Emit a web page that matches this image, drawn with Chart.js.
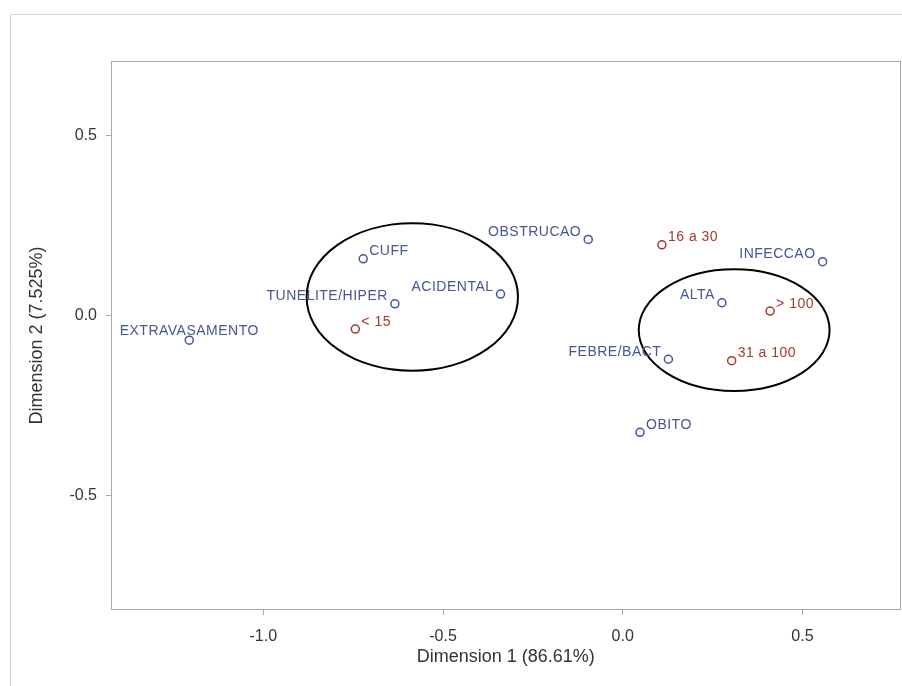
<!DOCTYPE html>
<html>
<head>
<meta charset="utf-8">
<script src="https://cdn.jsdelivr.net/npm/chart.js@4.4.1/dist/chart.umd.min.js"></script>
<style>
  html, body { margin: 0; padding: 0; background: #fff; overflow: hidden; }
</style>
</head>
<body>
<canvas id="caPlot" width="902" height="686"></canvas>
<script>
// row profile points (motivo de retirada)
const rowLabels = ['EXTRAVASAMENTO', 'CUFF', 'TUNELITE/HIPER', 'ACIDENTAL', 'OBSTRUCAO',
                   'INFECCAO', 'ALTA', 'FEBRE/BACT', 'OBITO'];
const rowDim1 = [-1.206, -0.722, -0.634, -0.340, -0.096, 0.556, 0.276, 0.127, 0.048];
const rowDim2 = [-0.068, 0.158, 0.033, 0.060, 0.212, 0.150, 0.036, -0.121, -0.324];

// column profile points (dias)
const colLabels = ['< 15', '16 a 30', '> 100', '31 a 100'];
const colDim1 = [-0.744, 0.109, 0.410, 0.303];
const colDim2 = [-0.037, 0.197, 0.013, -0.125];

const xTickValues = [-1.0, -0.5, 0.0, 0.5];
const yTickValues = [-0.5, 0.0, 0.5];

// ellipses, in data units
const ellipseCx = [-0.5855, 0.310];
const ellipseCy = [0.052, -0.040];
const ellipseRx = [0.294, 0.2655];
const ellipseRy = [0.205, 0.169];

// which side of the marker the label sits on
const rowLabelSide = ['center', 'right', 'left', 'left', 'left', 'left', 'left', 'left', 'right'];
const colLabelSide = ['right', 'right', 'right', 'right'];

const blue = '#445694';
const red = '#A23A2E';
const axisGray = '#a6aaae';

function toPoints(xs, ys) {
    return xs.map((x, i) => ({ x: x, y: ys[i] }));
}

const frameAndLabels = {
    id: 'frameAndLabels',
    beforeDraw(chart) {
        const ctx = chart.ctx;
        ctx.save();
        ctx.strokeStyle = '#d4d4d4';
        ctx.lineWidth = 1;
        ctx.beginPath();
        ctx.moveTo(10.5, 686);
        ctx.lineTo(10.5, 14.5);
        ctx.lineTo(902, 14.5);
        ctx.stroke();
        ctx.restore();
    },
    afterDatasetsDraw(chart) {
        const ctx = chart.ctx;
        const xs = chart.scales.x, ys = chart.scales.y;
        const a = chart.chartArea;
        ctx.save();
        // plot frame
        ctx.strokeStyle = axisGray;
        ctx.lineWidth = 1;
        ctx.strokeRect(Math.round(a.left) - 0.5, Math.round(a.top) - 0.5,
            Math.round(a.right - a.left) + 1, Math.round(a.bottom - a.top) + 1);

        // ellipses
        ctx.strokeStyle = '#000';
        ctx.lineWidth = 2;
        for (let i = 0; i < ellipseCx.length; i++) {
            const cx = xs.getPixelForValue(ellipseCx[i]);
            const cy = ys.getPixelForValue(ellipseCy[i]);
            const rx = xs.getPixelForValue(ellipseCx[i] + ellipseRx[i]) - cx;
            const ry = cy - ys.getPixelForValue(ellipseCy[i] + ellipseRy[i]);
            ctx.beginPath();
            ctx.ellipse(cx, cy, rx, ry, 0, 0, Math.PI * 2);
            ctx.stroke();
        }

        // point labels
        ctx.font = '14px "Liberation Sans", Arial, sans-serif';
        ctx.letterSpacing = '0.5px';
        ctx.textBaseline = 'alphabetic';
        const sets = [[rowLabels, rowLabelSide, blue], [colLabels, colLabelSide, red]];
        sets.forEach((s, di) => {
            const meta = chart.getDatasetMeta(di);
            ctx.fillStyle = s[2];
            meta.data.forEach((pt, i) => {
                const side = s[1][i];
                if (side === 'right') {
                    ctx.textAlign = 'left';
                    ctx.fillText(s[0][i], pt.x + 6, pt.y - 3.5);
                } else if (side === 'left') {
                    ctx.textAlign = 'right';
                    ctx.fillText(s[0][i], pt.x - 7, pt.y - 3.5);
                } else {
                    ctx.textAlign = 'center';
                    ctx.fillText(s[0][i], pt.x, pt.y - 5);
                }
            });
        });
        ctx.restore();
    }
};

new Chart(document.getElementById('caPlot'), {
    type: 'scatter',
    data: {
        datasets: [{
            label: 'Motivo',
            data: toPoints(rowDim1, rowDim2),
            borderColor: blue,
            backgroundColor: 'rgba(0,0,0,0)',
            pointRadius: 4,
            pointBorderWidth: 1.5
        }, {
            label: 'Dias',
            data: toPoints(colDim1, colDim2),
            borderColor: red,
            backgroundColor: 'rgba(0,0,0,0)',
            pointRadius: 4,
            pointBorderWidth: 1.5
        }]
    },
    options: {
        responsive: false,
        animation: false,
        events: [],
        layout: { autoPadding: false, padding: { left: 0, top: 62, right: 2.5, bottom: 0 } },
        plugins: {
            legend: { display: false },
            tooltip: { enabled: false }
        },
        scales: {
            x: {
                type: 'linear',
                min: -1.421,
                max: 0.770,
                afterBuildTicks: (scale) => { scale.ticks = xTickValues.map(v => ({ value: v })); },
                afterFit: (scale) => {
                    scale.height = 77;
                    scale.paddingLeft = 0;
                    scale.paddingRight = 0;
                },
                grid: { drawOnChartArea: false, drawTicks: true, tickLength: 6, tickColor: axisGray },
                border: { display: false },
                ticks: {
                    padding: 12,
                    color: '#333',
                    font: { family: '"Liberation Sans", Arial, sans-serif', size: 16 },
                    callback: (v) => v.toFixed(1)
                },
                title: {
                    display: true,
                    text: 'Dimension 1 (86.61%)',
                    color: '#333',
                    font: { family: '"Liberation Sans", Arial, sans-serif', size: 18 },
                    padding: { top: 0, bottom: 18 }
                }
            },
            y: {
                type: 'linear',
                min: -0.815,
                max: 0.705,
                afterBuildTicks: (scale) => { scale.ticks = yTickValues.map(v => ({ value: v })); },
                afterFit: (scale) => {
                    scale.width = 112;
                    scale.paddingTop = 0;
                    scale.paddingBottom = 0;
                },
                grid: { drawOnChartArea: false, drawTicks: true, tickLength: 6, tickColor: axisGray },
                border: { display: false },
                ticks: {
                    padding: 9,
                    color: '#333',
                    font: { family: '"Liberation Sans", Arial, sans-serif', size: 16 },
                    callback: (v) => v.toFixed(1)
                },
                title: {
                    display: true,
                    text: 'Dimension 2 (7.525%)',
                    color: '#333',
                    font: { family: '"Liberation Sans", Arial, sans-serif', size: 18 },
                    padding: { top: 26, bottom: 0 }
                }
            }
        }
    },
    plugins: [frameAndLabels]
});
</script>
</body>
</html>
